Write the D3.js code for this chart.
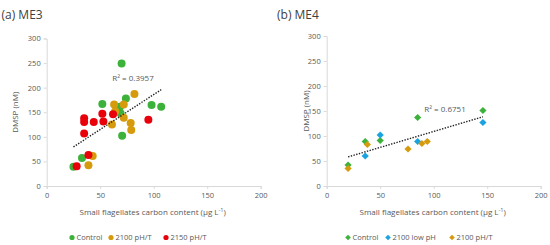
<!DOCTYPE html>
<html>
<head>
<meta charset="utf-8">
<script src="https://cdn.jsdelivr.net/npm/d3@7"></script>
<style>
  body { margin: 0; background: #fff; }
  text { font-family: "Open Sans", sans-serif; }
</style>
</head>
<body>
<script>
// Data
let me3_control_x = [70, 52, 74, 68.5, 69, 98, 107, 70.5, 33, 25];
let me3_control_y = [249, 167, 178, 161, 148, 165, 161, 102, 57, 39];
let me3_ph_t_x = [82, 63, 72, 64, 72, 61, 78.5, 79, 43, 39];
let me3_ph_t_y = [187, 166, 166, 152, 139, 125, 128, 114, 61, 42];
let me3_2150_x = [35, 35, 44, 52, 53, 62, 95, 35, 39, 28];
let me3_2150_y = [138, 130, 130, 147, 131, 146, 135, 107, 63, 40];

let me4_control_x = [146, 85, 36, 50, 20];
let me4_control_y = [151, 137, 89, 91, 42];
let me4_lowph_x = [146, 50, 85, 36];
let me4_lowph_y = [127, 102, 89, 60];
let me4_ph_t_x = [38, 76, 89, 94, 20];
let me4_ph_t_y = [83, 74, 85, 89, 35];

let x_ticks = [0, 50, 100, 150, 200];
let y_ticks = [0, 50, 100, 150, 200, 250, 300];
let r2_labels = ["R\u00b2 = 0.3957", "R\u00b2 = 0.6751"];

// Colours
let green = "#3db23a";
let orange = "#d69b0c";
let red = "#e8000b";
let blue = "#1aa3e0";
let axis_color = "#d9d9d9";
let text_color = "#595959";

let width = 550;
let height = 245;

let svg = d3.select("body")
            .append("svg")
            .attr("width", width)
            .attr("height", height);

function zip(xs, ys) {
    return xs.map(function(x, i) { return {x: x, y: ys[i]}; });
}

function drawPanel(p) {
    let g = svg.append("g");

    let x = d3.scaleLinear().domain([0, 200]).range([p.left, p.right]);
    let y = d3.scaleLinear().domain([0, 300]).range([186, p.top]);

    // title
    g.append("text")
        .attr("x", p.titleX).attr("y", 18.5)
        .attr("font-size", 12).attr("fill", "#404040")
        .text(p.title);

    // axes
    let xAxis = g.append("g")
        .attr("transform", "translate(0,186)")
        .call(d3.axisBottom(x).tickValues(x_ticks).tickSize(3).tickPadding(4));
    let yAxis = g.append("g")
        .attr("transform", "translate(" + p.left + ",0)")
        .call(d3.axisLeft(y).tickValues(y_ticks).tickSize(3).tickPadding(3));
    [xAxis, yAxis].forEach(function(a) {
        a.select(".domain").attr("stroke", axis_color);
        a.selectAll(".tick line").attr("stroke", axis_color);
        a.selectAll(".tick text").attr("fill", text_color)
            .attr("font-size", 7.5).attr("font-family", "Open Sans, sans-serif");
    });

    // axis titles
    let xt = g.append("text")
        .attr("x", (p.left + p.right) / 2 - 1).attr("y", 215)
        .attr("text-anchor", "middle")
        .attr("font-size", 8).attr("fill", text_color);
    xt.append("tspan").text("Small flagellates carbon content (\u00b5g L");
    xt.append("tspan").attr("font-size", 5.5).attr("dy", -3).text("-1");
    xt.append("tspan").attr("dy", 3).text(")");

    g.append("text")
        .attr("transform", "translate(" + p.yTitleX + "," + ((186 + p.top) / 2) + ") rotate(-90)")
        .attr("text-anchor", "middle")
        .attr("font-size", 8).attr("fill", text_color)
        .text("DMSP (nM)");

    // trend line (least squares over all points)
    let all = [];
    p.series.forEach(function(s) { all = all.concat(s.points); });
    let mx = d3.mean(all, d => d.x), my = d3.mean(all, d => d.y);
    let sxy = d3.sum(all, d => (d.x - mx) * (d.y - my));
    let sxx = d3.sum(all, d => (d.x - mx) * (d.x - mx));
    let slope = sxy / sxx, icpt = my - slope * mx;
    let x0 = d3.min(all, d => d.x), x1 = d3.max(all, d => d.x);

    // points
    p.series.forEach(function(s) {
        let sel = g.append("g").selectAll("path")
            .data(s.points).enter();
        if (p.shape === "circle") {
            sel.append("circle")
                .attr("cx", d => x(d.x)).attr("cy", d => y(d.y))
                .attr("r", 4).attr("fill", s.color);
        } else {
            sel.append("path")
                .attr("transform", d => "translate(" + x(d.x) + "," + y(d.y) + ")")
                .attr("d", "M0,-3.6L3.6,0L0,3.6L-3.6,0Z")
                .attr("fill", s.color);
        }
    });

    g.append("line")
        .attr("x1", x(x0)).attr("y1", y(icpt + slope * x0))
        .attr("x2", x(x1)).attr("y2", y(icpt + slope * x1))
        .attr("stroke", "#222").attr("stroke-width", 1.4)
        .attr("stroke-dasharray", "1.4,1.4");

    g.append("text")
        .attr("x", p.r2X).attr("y", p.r2Y)
        .attr("text-anchor", "middle")
        .attr("font-size", 8).attr("fill", text_color)
        .text(p.r2);

    // legend
    p.series.forEach(function(s, i) {
        let lx = p.legendX[i];
        if (p.shape === "circle") {
            g.append("circle").attr("cx", lx).attr("cy", 237.5).attr("r", 2.6).attr("fill", s.color);
        } else {
            g.append("path")
                .attr("transform", "translate(" + lx + ",237.5)")
                .attr("d", "M0,-2.8L2.8,0L0,2.8L-2.8,0Z")
                .attr("fill", s.color);
        }
        g.append("text")
            .attr("x", lx + 4.5).attr("y", 240.2)
            .attr("font-size", 7.5).attr("fill", text_color)
            .text(s.name);
    });
}

drawPanel({
    title: "(a) ME3", titleX: 1.5,
    left: 46.7, right: 260.7, top: 38.5, yTitleX: 18,
    shape: "circle",
    r2: r2_labels[0], r2X: 133, r2Y: 81,
    legendX: [72, 111, 166],
    series: [
        {name: "Control", color: green, points: zip(me3_control_x, me3_control_y)},
        {name: "2100 pH/T", color: orange, points: zip(me3_ph_t_x, me3_ph_t_y)},
        {name: "2150 pH/T", color: red, points: zip(me3_2150_x, me3_2150_y)}
    ]
});

drawPanel({
    title: "(b) ME4", titleX: 277,
    left: 326.7, right: 540.7, top: 36, yTitleX: 309,
    shape: "diamond",
    r2: r2_labels[1], r2X: 445, r2Y: 112,
    legendX: [348, 388, 452],
    series: [
        {name: "Control", color: green, points: zip(me4_control_x, me4_control_y)},
        {name: "2100 low pH", color: blue, points: zip(me4_lowph_x, me4_lowph_y)},
        {name: "2100 pH/T", color: orange, points: zip(me4_ph_t_x, me4_ph_t_y)}
    ]
});
</script>
</body>
</html>
